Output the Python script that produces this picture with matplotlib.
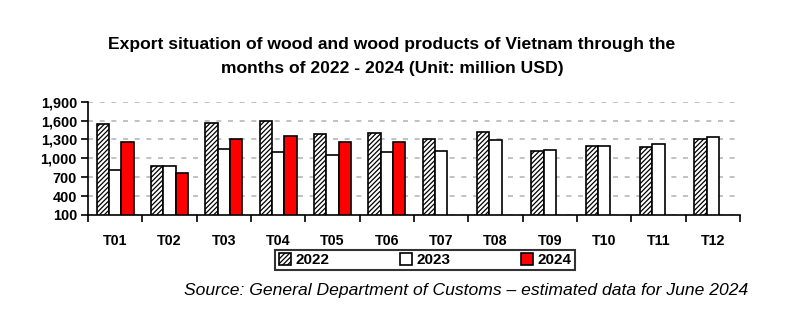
import numpy as np
import matplotlib.pyplot as plt

plt.rcParams['font.family'] = ['Liberation Sans', 'DejaVu Sans']
plt.rcParams['hatch.color'] = '#555555'
plt.rcParams['hatch.linewidth'] = 0.9

months = ['T01', 'T02', 'T03', 'T04', 'T05', 'T06',
          'T07', 'T08', 'T09', 'T10', 'T11', 'T12']
y2022 = [1550, 880, 1557, 1594, 1382, 1408, 1305, 1412, 1114, 1199, 1173, 1305]
y2023 = [812, 880, 1144, 1096, 1053, 1096, 1120, 1289, 1135, 1199, 1226, 1332]
y2024 = [1255, 772, 1303, 1360, 1265, 1255]

fig = plt.figure(figsize=(7.9, 3.24), dpi=100)
ax = fig.add_axes([88 / 790, 1 - 215 / 324, (740 - 88) / 790, (215 - 101.7) / 324])

x = np.arange(len(months))
w = 0.227
base = 100
ax.bar(x - w, np.array(y2022) - base, w, bottom=base, color='white',
       edgecolor='black', linewidth=1.2, hatch='///////', label='2022', zorder=3)
ax.bar(x, np.array(y2023) - base, w, bottom=base, color='white',
       edgecolor='black', linewidth=1.2, label='2023', zorder=3)
ax.bar(x[:len(y2024)] + w, np.array(y2024) - base, w, bottom=base, color='#ff0000',
       edgecolor='black', linewidth=1.2, label='2024', zorder=3)

ax.set_xlim(-0.5, len(months) - 0.5)
ax.set_ylim(100, 1900)
ax.set_yticks(range(100, 1901, 300))
ax.set_yticklabels([f'{v:,}' for v in range(100, 1901, 300)],
                   fontsize=10.4, fontweight='bold')
ax.yaxis.grid(True, linestyle=(0, (3, 4)), color='#b8b8b8', linewidth=1.2, zorder=0)

# month labels in the middle, tick marks between the groups
ax.set_xticks(np.arange(-0.5, len(months), 1.0))
ax.set_xticklabels([])
ax.set_xticks(x, minor=True)
ax.set_xticklabels(months, minor=True, fontsize=10.3, fontweight='bold')
ax.tick_params(axis='x', which='minor', length=0, pad=14)
ax.tick_params(axis='x', which='major', length=5, width=1.2, direction='out')
ax.tick_params(axis='y', length=5, width=1.2, direction='out', pad=3)

for side in ['top', 'right']:
    ax.spines[side].set_visible(False)
for side in ['left', 'bottom']:
    ax.spines[side].set_linewidth(1.2)

fig.text(392 / 790, 1 - 45 / 324, 'Export situation of wood and wood products of Vietnam through the',
         ha='center', va='center', fontsize=12.6, fontweight='bold')
fig.text(392 / 790, 1 - 68 / 324, 'months of 2022 - 2024 (Unit: million USD)',
         ha='center', va='center', fontsize=12.6, fontweight='bold')

leg = fig.legend(loc='center', bbox_to_anchor=(425 / 790, 1 - 260 / 324), ncol=3,
                 frameon=True, fancybox=False, edgecolor='black',
                 handlelength=0.8, handleheight=0.8, handletextpad=0.3,
                 columnspacing=4.6, borderpad=0.2,
                 prop={'weight': 'bold', 'size': 11})
leg.get_frame().set_linewidth(1.5)

fig.text(748 / 790, 1 - 291 / 324,
         'Source: General Department of Customs \u2013 estimated data for June 2024',
         ha='right', va='center', fontsize=12.6, style='italic')

fig.savefig('out.png', dpi=100)
